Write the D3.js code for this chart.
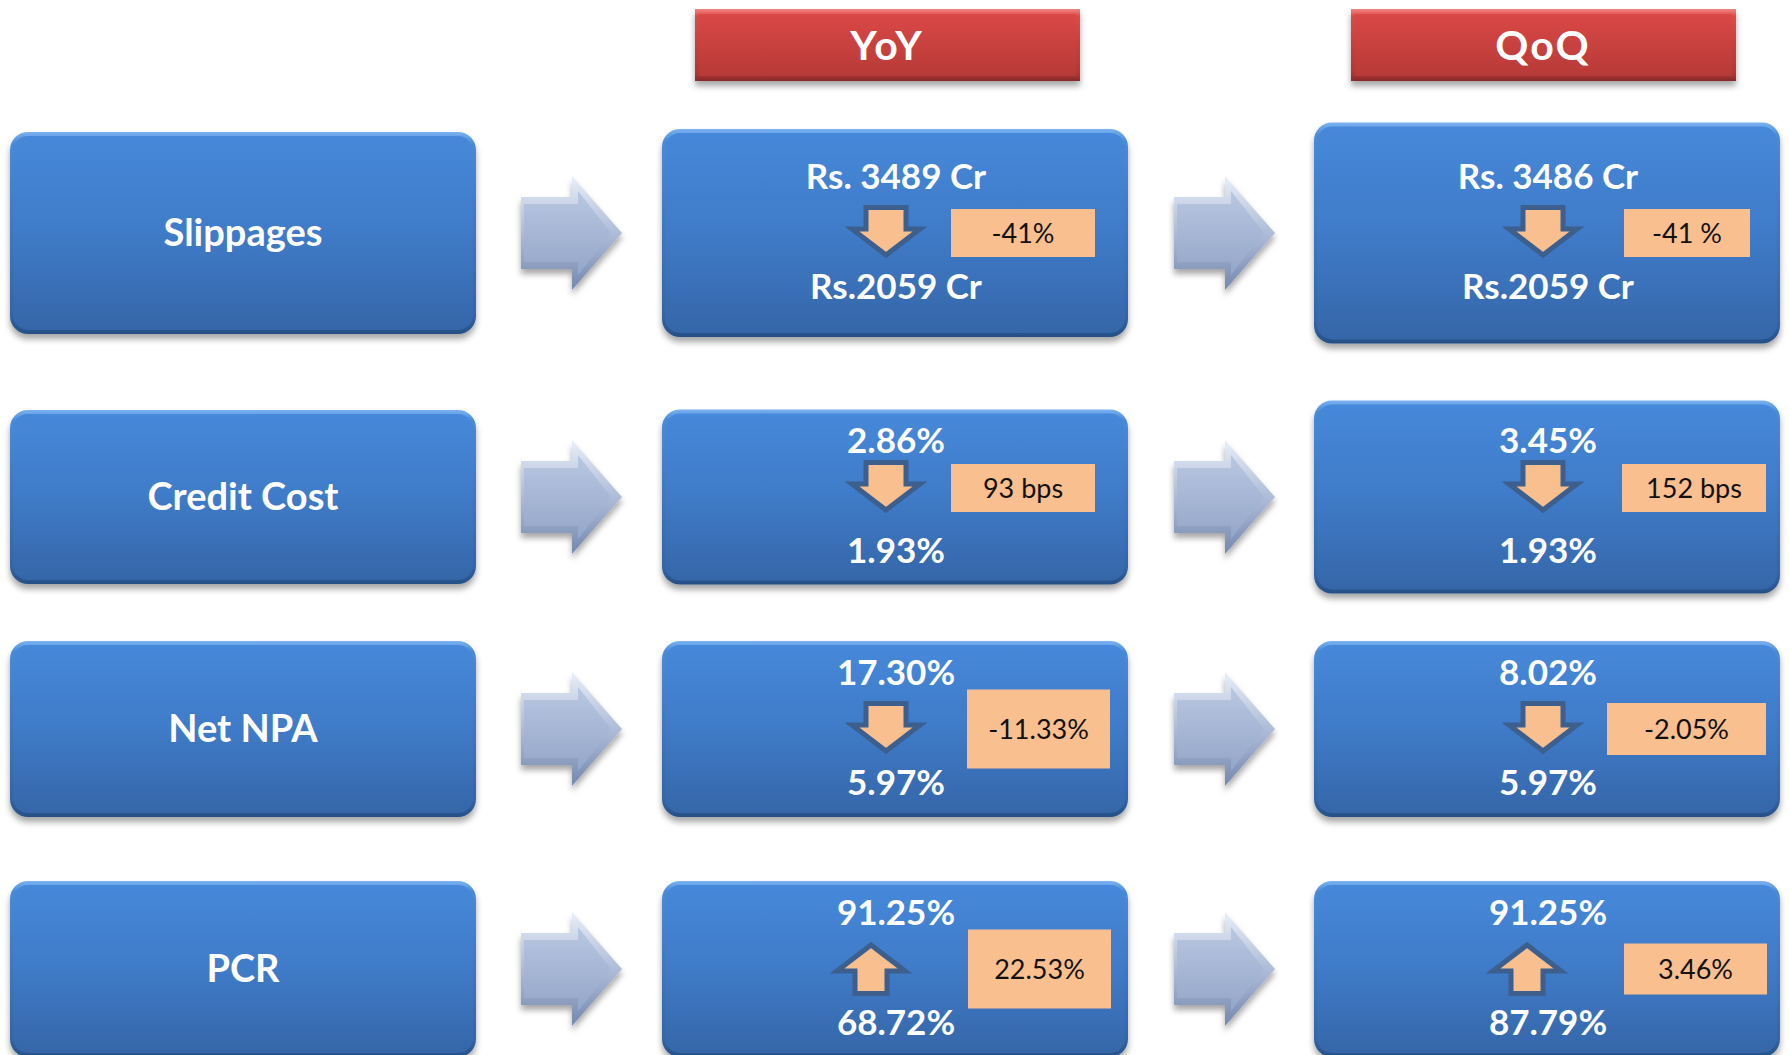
<!DOCTYPE html>
<html>
<head>
<meta charset="utf-8">
<script src="https://cdn.jsdelivr.net/npm/d3@7/dist/d3.min.js"></script>
<style>
  body { margin: 0; background: #fff; }
  text { font-family: Lato, "Open Sans", sans-serif; }
  .label { fill: #fff; font-weight: bold; font-size: 38px; text-anchor: middle; }
  .val { fill: #fff; font-weight: bold; font-size: 35px; text-anchor: middle; }
  .head { fill: #fff; font-weight: bold; font-size: 41px; text-anchor: middle; letter-spacing: 2px; }
  .chg { fill: #111; font-size: 27px; text-anchor: middle; }
</style>
</head>
<body>
<svg id="chart" width="1789" height="1055"></svg>
<script>
// ---- data ----
var categories = ["Slippages", "Credit Cost", "Net NPA", "PCR"];
var periods = ["YoY", "QoQ"];
var yoyTop = ["Rs. 3489 Cr", "2.86%", "17.30%", "91.25%"];
var yoyBottom = ["Rs.2059 Cr", "1.93%", "5.97%", "68.72%"];
var yoyChange = ["-41%", "93 bps", "-11.33%", "22.53%"];
var qoqTop = ["Rs. 3486 Cr", "3.45%", "8.02%", "91.25%"];
var qoqBottom = ["Rs.2059 Cr", "1.93%", "5.97%", "87.79%"];
var qoqChange = ["-41 %", "152 bps", "-2.05%", "3.46%"];
var direction = ["down", "down", "down", "up"];

// ---- layout ----
var rowCenters = [233, 497, 729, 969];
var arrowShift = [0, -9, 0, 0];
var colKeys = ["label", "YoY", "QoQ"];
var colX0 = [10, 662, 1314];
var boxW = 466;
var boxHalf = { label: [101, 87, 88, 88], YoY: [104, 87.5, 88, 88], QoQ: [110.5, 96.5, 88, 88] };
var chgBox = {
  YoY: [{dx: 56, w: 144, h: 48}, {dx: 56, w: 144, h: 48}, {dx: 72, w: 143, h: 79}, {dx: 73, w: 143, h: 79}],
  QoQ: [{dx: 77, w: 126, h: 48}, {dx: 75, w: 144, h: 48}, {dx: 60, w: 159, h: 52}, {dx: 77, w: 143, h: 51}]
};
var arrowDx = { YoY: { down: -9, up: -24 }, QoQ: { down: -4, up: -20 } };

var svg = d3.select("#chart");
var y = d3.scaleOrdinal().domain(categories).range(rowCenters);
var x = d3.scaleOrdinal().domain(colKeys).range(colX0);
var gapX = d3.scaleOrdinal().domain(periods).range([521, 1174]);
var headX = d3.scaleOrdinal().domain(periods).range([695, 1351]);

var defs = svg.append("defs");
function grad(id, stops, horiz) {
  var g = defs.append("linearGradient").attr("id", id)
      .attr("x1", 0).attr("y1", 0).attr("x2", horiz ? 1 : 0).attr("y2", horiz ? 0 : 1);
  stops.forEach(function(s) { g.append("stop").attr("offset", s[0]).attr("stop-color", s[1]); });
}
grad("blueOuter", [[0, "#7ab2f2"], [0.06, "#4a8ad8"], [0.9, "#3465a5"], [1, "#264f86"]]);
grad("blueInner", [[0, "#4688d9"], [0.5, "#3f7bc8"], [1, "#3566a8"]]);
grad("redOuter", [[0, "#f48480"], [0.1, "#dc4a47"], [0.9, "#b13634"], [1, "#86292a"]]);
grad("redInner", [[0, "#d94846"], [1, "#b73a38"]]);
grad("greyOuter", [[0, "#e8eef8"], [0.5, "#aebcd8"], [1, "#7488ae"]]);
grad("greyInner", [[0, "#b9c7e1"], [1, "#94a6c8"]]);

var f = defs.append("filter").attr("id", "shadow")
    .attr("x", "-5%").attr("y", "-10%").attr("width", "110%").attr("height", "130%");
f.append("feDropShadow").attr("dx", 0).attr("dy", 5).attr("stdDeviation", 3)
    .attr("flood-color", "#000").attr("flood-opacity", 0.35);

// ---- headers ----
var head = svg.selectAll("g.header").data(periods).enter().append("g").attr("class", "header");
head.append("rect")
    .attr("x", function(d) { return headX(d); }).attr("y", 9)
    .attr("width", 385).attr("height", 72)
    .attr("fill", "url(#redOuter)").attr("filter", "url(#shadow)");
head.append("rect")
    .attr("x", function(d) { return headX(d) + 4; }).attr("y", 14)
    .attr("width", 377).attr("height", 62)
    .attr("fill", "url(#redInner)");
head.append("text").attr("class", "head")
    .attr("x", function(d) { return headX(d) + 192; }).attr("y", 60)
    .text(function(d) { return d; });

// ---- boxes ----
function box(g, col, i) {
  var c = y(categories[i]), h = boxHalf[col][i], x0 = x(col);
  g.append("rect").attr("x", x0).attr("y", c - h).attr("width", boxW).attr("height", 2 * h)
      .attr("rx", 18).attr("fill", "url(#blueOuter)").attr("filter", "url(#shadow)");
  g.append("rect").attr("x", x0 + 3).attr("y", c - h + 4).attr("width", boxW - 6).attr("height", 2 * h - 8)
      .attr("rx", 15).attr("fill", "url(#blueInner)");
}

function greyArrow(g, x0, c) {
  var xb = x0 + 51, x1 = x0 + 101;
  var outer = [[x0, c - 36], [xb, c - 36], [xb, c - 57], [x1, c], [xb, c + 57], [xb, c + 36], [x0, c + 36]];
  var inner = [[x0 + 3, c - 29], [xb + 6, c - 29], [xb + 6, c - 42], [x1 - 11, c], [xb + 6, c + 42], [xb + 6, c + 29], [x0 + 3, c + 29]];
  g.append("path").attr("d", "M" + outer.join("L") + "Z").attr("fill", "url(#greyOuter)").attr("filter", "url(#shadow)");
  g.append("path").attr("d", "M" + inner.join("L") + "Z").attr("fill", "url(#greyInner)");
}

function changeArrow(g, cx, m, dir) {
  var p;
  if (dir === "down") {
    var sw = 20, hw = 34;
    p = [[cx - sw, m - 25.5], [cx + sw, m - 25.5], [cx + sw, m - 4], [cx + hw, m - 4], [cx, m + 22], [cx - hw, m - 4], [cx - sw, m - 4]];
  } else {
    var sw2 = 16, hw2 = 34;
    p = [[cx - sw2, m + 24.5], [cx + sw2, m + 24.5], [cx + sw2, m + 2], [cx + hw2, m + 2], [cx, m - 24], [cx - hw2, m + 2], [cx - sw2, m + 2]];
  }
  g.append("path").attr("d", "M" + p.join("L") + "Z")
      .attr("fill", "#f9bf8f").attr("stroke", "#3c5f8e").attr("stroke-width", 5)
      .attr("stroke-linejoin", "miter");
}

var tops = { YoY: yoyTop, QoQ: qoqTop };
var bottoms = { YoY: yoyBottom, QoQ: qoqBottom };
var changes = { YoY: yoyChange, QoQ: qoqChange };

var rows = svg.selectAll("g.row").data(categories).enter().append("g").attr("class", "row");
rows.each(function(cat, i) {
  var g = d3.select(this), c = y(cat), m = c + arrowShift[i];
  box(g, "label", i);
  g.append("text").attr("class", "label").attr("x", x("label") + boxW / 2).attr("y", c + 13).text(cat);

  periods.forEach(function(p) {
    greyArrow(g, gapX(p), c);
    box(g, p, i);
    var mid = x(p) + boxW / 2;
    g.append("text").attr("class", "val").attr("x", mid + 1).attr("y", c - 44).text(tops[p][i]);
    g.append("text").attr("class", "val").attr("x", mid + 1).attr("y", c + 66).text(bottoms[p][i]);
    changeArrow(g, mid + arrowDx[p][direction[i]], m, direction[i]);
    var b = chgBox[p][i];
    g.append("rect").attr("x", mid + b.dx).attr("y", m - b.h / 2)
        .attr("width", b.w).attr("height", b.h).attr("fill", "#f9bf8f");
    g.append("text").attr("class", "chg").attr("x", mid + b.dx + b.w / 2).attr("y", m + 10)
        .text(changes[p][i]);
  });
});
</script>
</body>
</html>
